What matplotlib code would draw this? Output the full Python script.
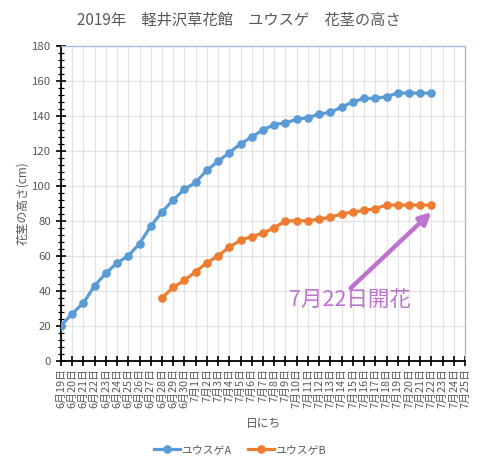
import matplotlib.pyplot as plt
from matplotlib.ticker import MultipleLocator
import numpy as np

plt.rcParams['font.family'] = ['Noto Sans CJK JP', 'DejaVu Sans']

# 6月19日 .. 7月25日
dates = [f"6月{d}日" for d in range(19, 31)] + [f"7月{d}日" for d in range(1, 26)]

# ユウスゲA: 6月19日 - 7月22日
heights_a = [20, 27, 33, 43, 50, 56, 60, 67, 77, 85, 92, 98, 102, 109, 114, 119,
             124, 128, 132, 135, 136, 138, 139, 141, 142, 145, 148, 150, 150, 151,
             153, 153, 153, 153]
# ユウスゲB: 6月28日 - 7月22日
heights_b = [36, 42, 46, 51, 56, 60, 65, 69, 71, 73, 76, 80, 80, 80, 81, 82,
             84, 85, 86, 87, 89, 89, 89, 89, 89]
start_b = dates.index("6月28日")
bloom_day = dates.index("7月22日")

blue = '#5B9BD5'
orange = '#ED7D31'
purple = '#BF72CF'
gray = '#595959'

fig = plt.figure(figsize=(4.8, 4.68), dpi=100)
ax = fig.add_axes([0.127, 0.229, 0.842, 0.673])

xa = np.arange(len(heights_a))
xb = np.arange(len(heights_b)) + start_b
ax.plot(xa, heights_a, '-o', color=blue, lw=2.3, ms=5.2, label='ユウスゲA', zorder=3)
ax.plot(xb, heights_b, '-o', color=orange, lw=2.3, ms=5.2, label='ユウスゲB', zorder=3)

ax.set_xlim(0, len(dates) - 1)
ax.set_ylim(0, 180)
ax.set_xticks(range(len(dates)))
ax.set_xticklabels(dates, rotation=90, fontsize=7.8, color=gray)
ax.yaxis.set_major_locator(MultipleLocator(20))
ax.yaxis.set_minor_locator(MultipleLocator(4))
ax.tick_params(axis='y', which='major', direction='inout', length=7, width=1.2,
               labelsize=8.2, labelcolor=gray)
ax.tick_params(axis='y', which='minor', direction='inout', length=4, width=0.9)
ax.tick_params(axis='x', direction='inout', length=7, width=1.2, pad=2)

ax.grid(True, which='major', color='#E3E3E3', lw=0.9, zorder=0)
ax.set_axisbelow(True)
for s in ['top', 'right']:
    ax.spines[s].set_color('#9DB9DA')
    ax.spines[s].set_linewidth(0.9)
for s in ['left', 'bottom']:
    ax.spines[s].set_color('black')
    ax.spines[s].set_linewidth(1.3)

ax.set_xlabel('日にち', fontsize=8.5, color=gray, labelpad=6)
ax.set_ylabel('花茎の高さ(cm)', fontsize=8.5, color=gray, labelpad=2)
ax.set_title('2019年　軽井沢草花館　ユウスゲ　花茎の高さ', fontsize=11,
             color=gray, pad=15, x=0.44)

ax.annotate('', xy=(bloom_day, 85), xytext=(25.8, 41.5),
            arrowprops=dict(arrowstyle='-|>,head_length=0.7,head_width=0.35',
                            color=purple, lw=3.2, shrinkA=0, shrinkB=0))
ax.text(25.7, 34.5, '7月22日開花', fontsize=15.5, color=purple,
        ha='center', va='center')

fig.legend(loc='center', bbox_to_anchor=(0.5, 0.038), ncol=2, frameon=False,
           fontsize=7.8, labelcolor=gray, handlelength=2.4, columnspacing=1.6,
           handletextpad=0.1)

fig.savefig('out.png', dpi=100)
